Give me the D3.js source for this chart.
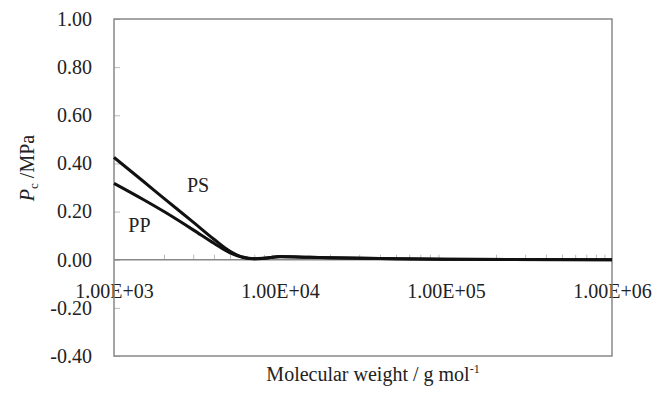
<!DOCTYPE html>
<html>
<head>
<meta charset="utf-8">
<script src="https://cdn.jsdelivr.net/npm/d3@7"></script>
<style>
  body { margin: 0; background: #fff; }
</style>
</head>
<body>
<div id="chart"></div>
<script>
// molecular weight (g/mol) and critical pressure values
var molWeight = [1000, 1500, 2000, 3000, 4000, 5000, 6000, 7000, 8000, 10000, 15000, 20000, 50000, 100000, 1000000];
var pcPS = [0.425, 0.326, 0.255, 0.156, 0.085, 0.035, 0.010, 0.004, 0.006, 0.013, 0.010, 0.008, 0.004, 0.002, 0.000];
var pcPP = [0.317, 0.250, 0.200, 0.124, 0.068, 0.028, 0.009, 0.004, 0.006, 0.012, 0.010, 0.008, 0.004, 0.002, 0.000];
var yTicks = [-0.4, -0.2, 0, 0.2, 0.4, 0.6, 0.8, 1.0];
var xTicks = [1e3, 1e4, 1e5, 1e6];

var serif = "'Liberation Serif', 'Times New Roman', Times, serif";
var width = 666, height = 412;
var plot = { left: 114, right: 612, top: 19, bottom: 356 };

var svg = d3.select("#chart")
  .append("svg")
  .attr("width", width)
  .attr("height", height)
  .style("font-family", serif);

var x = d3.scaleLog().domain([1e3, 1e6]).range([plot.left, plot.right]);
var y = d3.scaleLinear().domain([-0.4, 1.0]).range([plot.bottom, plot.top]);

// minor log ticks on the zero line, pointing up
var minorTicks = [];
[1e3, 1e4, 1e5].forEach(function(d) {
  for (var k = 2; k <= 9; k++) minorTicks.push(d * k);
});

var yAxis = d3.axisLeft(y)
  .tickValues(yTicks)
  .tickSizeInner(-6)
  .tickSizeOuter(0)
  .tickPadding(22)
  .tickFormat(function(d) { return d.toFixed(2); });

var gy = svg.append("g")
  .attr("transform", "translate(" + plot.left + ",0)")
  .call(yAxis);
gy.attr("font-family", null);
gy.select(".domain").remove();
gy.selectAll("line").attr("stroke", "#bbb");
gy.selectAll("text").attr("font-size", "20px").attr("fill", "#222").style("font-family", serif);

var gMinor = svg.append("g")
  .attr("transform", "translate(0," + y(0) + ")")
  .call(d3.axisBottom(x).tickValues(minorTicks).tickSize(-5).tickFormat(""));
gMinor.select(".domain").remove();
gMinor.selectAll("line").attr("stroke", "#bbb");

var gx = svg.append("g")
  .attr("transform", "translate(0," + y(0) + ")")
  .call(d3.axisBottom(x).tickValues(xTicks).tickSize(0).tickPadding(24)
    .tickFormat(function(d) { return "1.00E+0" + Math.round(Math.log10(d)); }));
gx.attr("font-family", null);
gx.select(".domain").remove();
gx.selectAll("text").attr("font-size", "20px").attr("fill", "#222").style("font-family", serif);

// zero line
svg.append("line")
  .attr("x1", plot.left).attr("x2", plot.right)
  .attr("y1", y(0)).attr("y2", y(0))
  .attr("stroke", "#888")
  .attr("stroke-width", 1.5);

// plot area border
svg.append("rect")
  .attr("x", plot.left)
  .attr("y", plot.top)
  .attr("width", plot.right - plot.left)
  .attr("height", plot.bottom - plot.top)
  .attr("fill", "none")
  .attr("stroke", "#888")
  .attr("stroke-width", 1.5);

var line = d3.line()
  .x(function(d) { return x(d[0]); })
  .y(function(d) { return y(d[1]); })
  .curve(d3.curveMonotoneX);

[pcPP, pcPS].forEach(function(series) {
  svg.append("path")
    .datum(molWeight.map(function(m, i) { return [m, series[i]]; }))
    .attr("d", line)
    .attr("fill", "none")
    .attr("stroke", "#111")
    .attr("stroke-width", 3);
});

svg.append("text")
  .attr("x", x(2750))
  .attr("y", y(0.283))
  .attr("font-size", "20px")
  .attr("fill", "#222")
  .text("PS");

svg.append("text")
  .attr("x", x(1220))
  .attr("y", y(0.115))
  .attr("font-size", "20px")
  .attr("fill", "#222")
  .text("PP");

// y axis title
var yt = svg.append("text")
  .attr("transform", "translate(34,168) rotate(-90)")
  .attr("text-anchor", "middle")
  .attr("font-size", "20px")
  .attr("fill", "#222");
yt.append("tspan").attr("font-style", "italic").text("P");
yt.append("tspan").attr("font-size", "13px").attr("dy", 4).text("c");
yt.append("tspan").attr("dy", -4).text(" /MPa");

// x axis title
var xt = svg.append("text")
  .attr("x", 373)
  .attr("y", 381)
  .attr("text-anchor", "middle")
  .attr("font-size", "20px")
  .attr("fill", "#222");
xt.append("tspan").text("Molecular weight / g mol");
xt.append("tspan").attr("font-size", "12px").attr("dy", -8).text("-1");
</script>
</body>
</html>
